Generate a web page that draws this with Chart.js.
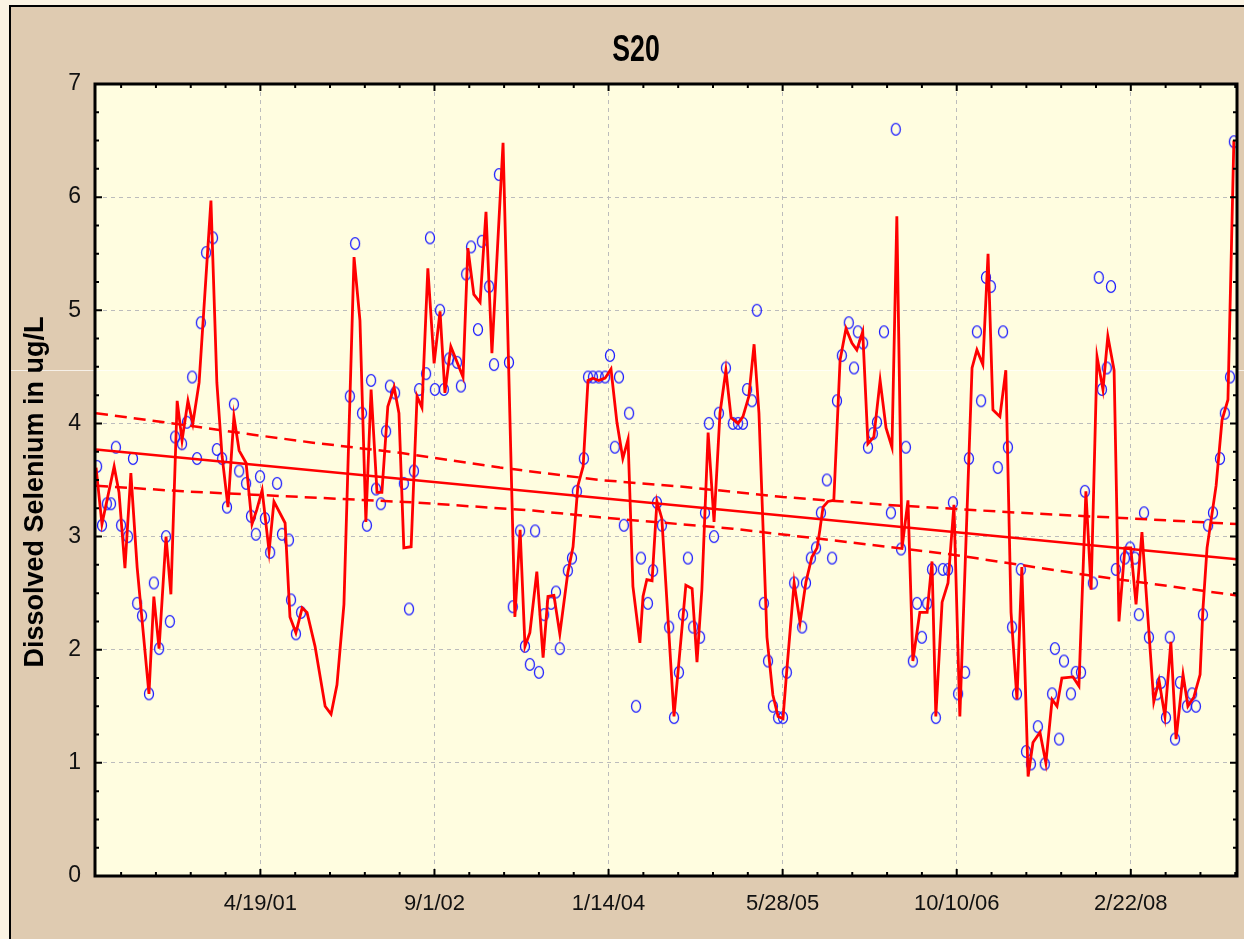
<!DOCTYPE html>
<html>
<head>
<meta charset="utf-8">
<title>S20</title>
<script src="https://cdn.jsdelivr.net/npm/chart.js@4.4.1/dist/chart.umd.min.js"></script>
<style>
  html, body { margin: 0; padding: 0; background: #fbf3e3; }
  #wrap { width: 1244px; height: 939px; }
</style>
</head>
<body>
<div id="wrap"><canvas id="chart" width="1244" height="939"></canvas></div>
<script>
// x values are days counted from the left edge of the axis (about 1 Jan 2000)
const chartTitle = 'S20';
const yTitle = 'Dissolved Selenium in ug/L';

const dateTicks = [475, 975, 1475, 1975, 2475, 2975];
const dateLabels = ['4/19/01', '9/1/02', '1/14/04', '5/28/05', '10/10/06', '2/22/08'];
const dayTicks = [75, 175, 275, 375, 475, 575, 675, 775, 875, 975, 1075, 1175, 1275, 1375, 1475, 1575, 1675,
  1775, 1875, 1975, 2075, 2175, 2275, 2375, 2475, 2575, 2675, 2775, 2875, 2975, 3075, 3175, 3275];
const valueTicks = [0, 0.25, 0.5, 0.75, 1, 1.25, 1.5, 1.75, 2, 2.25, 2.5, 2.75, 3, 3.25, 3.5, 3.75, 4,
  4.25, 4.5, 4.75, 5, 5.25, 5.5, 5.75, 6, 6.25, 6.5, 6.75, 7];

// measured samples (blue circles)
const sampleDays = [6, 20, 34, 46, 60, 75, 95, 109, 121, 135,
  155, 169, 184, 204, 215, 230, 250, 264, 279, 293,
  304, 319, 339, 350, 365, 379, 399, 414, 434, 448,
  462, 474, 488, 503, 523, 537, 557, 563, 577, 592,
  732, 747, 767, 781, 793, 807, 821, 836, 847, 862,
  887, 902, 916, 931, 951, 962, 976, 991, 1002, 1017,
  1040, 1051, 1066, 1080, 1100, 1111, 1132, 1146, 1160, 1189,
  1200, 1221, 1235, 1249, 1264, 1275, 1290, 1310, 1324, 1335,
  1358, 1370, 1384, 1404, 1416, 1430, 1447, 1465, 1479, 1493,
  1505, 1519, 1534, 1554, 1568, 1588, 1603, 1614, 1628, 1649,
  1663, 1677, 1689, 1703, 1718, 1738, 1752, 1763, 1778, 1792,
  1812, 1832, 1847, 1861, 1873, 1887, 1901, 1921, 1933, 1947,
  1962, 1976, 1987, 2008, 2031, 2042, 2056, 2071, 2085, 2102,
  2117, 2131, 2145, 2165, 2180, 2191, 2206, 2220, 2234, 2246,
  2266, 2286, 2300, 2315, 2329, 2349, 2361, 2375, 2390, 2404,
  2415, 2435, 2450, 2464, 2479, 2499, 2510, 2533, 2545, 2559,
  2573, 2593, 2608, 2622, 2634, 2648, 2659, 2674, 2688, 2708,
  2728, 2749, 2757, 2769, 2783, 2803, 2817, 2832, 2843, 2866,
  2883, 2892, 2906, 2918, 2932, 2958, 2973, 2987, 2998, 3013,
  3027, 3050, 3062, 3076, 3087, 3102, 3116, 3136, 3151, 3162,
  3182, 3197, 3211, 3231, 3245, 3260, 3271];
const sampleValues = [3.62, 3.10, 3.29, 3.29, 3.79, 3.10, 3.00, 3.69, 2.41, 2.30,
  1.61, 2.59, 2.01, 3.00, 2.25, 3.88, 3.82, 4.01, 4.41, 3.69,
  4.89, 5.51, 5.64, 3.77, 3.69, 3.26, 4.17, 3.58, 3.47, 3.18,
  3.02, 3.53, 3.16, 2.86, 3.47, 3.02, 2.97, 2.44, 2.14, 2.33,
  4.24, 5.59, 4.09, 3.10, 4.38, 3.42, 3.29, 3.93, 4.33, 4.27,
  3.47, 2.36, 3.58, 4.30, 4.44, 5.64, 4.30, 5.00, 4.30, 4.57,
  4.54, 4.33, 5.32, 5.56, 4.83, 5.61, 5.21, 4.52, 6.20, 4.54,
  2.38, 3.05, 2.03, 1.87, 3.05, 1.80, 2.31, 2.41, 2.51, 2.01,
  2.70, 2.81, 3.40, 3.69, 4.41, 4.41, 4.41, 4.41, 4.60, 3.79,
  4.41, 3.10, 4.09, 1.50, 2.81, 2.41, 2.70, 3.30, 3.10, 2.20,
  1.40, 1.80, 2.31, 2.81, 2.20, 2.11, 3.21, 4.00, 3.00, 4.09,
  4.49, 4.00, 4.00, 4.00, 4.30, 4.20, 5.00, 2.41, 1.90, 1.50,
  1.40, 1.40, 1.80, 2.59, 2.20, 2.59, 2.81, 2.90, 3.21, 3.50,
  2.81, 4.20, 4.60, 4.89, 4.49, 4.81, 4.71, 3.79, 3.91, 4.01,
  4.81, 3.21, 6.60, 2.89, 3.79, 1.90, 2.41, 2.11, 2.41, 2.71,
  1.40, 2.71, 2.71, 3.30, 1.61, 1.80, 3.69, 4.81, 4.20, 5.29,
  5.21, 3.61, 4.81, 3.79, 2.20, 1.61, 2.71, 1.10, 0.99, 1.32,
  0.99, 1.61, 2.01, 1.21, 1.90, 1.61, 1.80, 1.80, 3.40, 2.59,
  5.29, 4.30, 4.49, 5.21, 2.71, 2.81, 2.90, 2.81, 2.31, 3.21,
  2.11, 1.61, 1.71, 1.40, 2.11, 1.21, 1.71, 1.50, 1.61, 1.50,
  2.31, 3.10, 3.21, 3.69, 4.09, 4.41, 6.49];

// smoothed fit (red line)
const smoothDays = [3, 20, 55, 69, 86, 103, 121, 155, 169, 184,
  204, 218, 236, 250, 267, 281, 299, 333, 350, 365,
  382, 399, 414, 434, 451, 465, 480, 500, 514, 546,
  560, 577, 595, 609, 632, 661, 678, 695, 715, 744,
  761, 778, 793, 810, 824, 841, 859, 873, 887, 908,
  925, 939, 956, 974, 991, 1005, 1022, 1057, 1071, 1088,
  1106, 1123, 1140, 1172, 1206, 1221, 1235, 1249, 1269, 1287,
  1301, 1318, 1335, 1358, 1373, 1387, 1402, 1416, 1430, 1447,
  1465, 1482, 1499, 1516, 1531, 1545, 1565, 1574, 1585, 1600,
  1614, 1628, 1663, 1697, 1715, 1729, 1743, 1761, 1778, 1795,
  1812, 1827, 1847, 1861, 1878, 1893, 1907, 1930, 1947, 1962,
  1976, 1987, 2008, 2025, 2042, 2059, 2074, 2082, 2091, 2105,
  2122, 2140, 2157, 2174, 2188, 2205, 2220, 2237, 2255, 2272,
  2289, 2303, 2318, 2335, 2349, 2369, 2390, 2404, 2415, 2433,
  2450, 2467, 2484, 2519, 2533, 2550, 2565, 2579, 2599, 2616,
  2631, 2648, 2662, 2680, 2694, 2714, 2731, 2749, 2763, 2777,
  2809, 2826, 2846, 2861, 2878, 2895, 2909, 2927, 2941, 2958,
  2975, 2990, 3007, 3041, 3056, 3073, 3090, 3105, 3125, 3139,
  3156, 3174, 3182, 3194, 3220, 3237, 3254, 3271];
const smoothValues = [3.61, 3.11, 3.62, 3.39, 2.72, 3.56, 2.73, 1.61, 2.47, 2.01,
  3.00, 2.49, 4.20, 3.85, 4.20, 4.00, 4.36, 5.97, 4.36, 3.71,
  3.26, 4.06, 3.76, 3.65, 3.11, 3.24, 3.41, 2.87, 3.31, 3.12,
  2.29, 2.15, 2.37, 2.33, 2.03, 1.50, 1.43, 1.69, 2.40, 5.47,
  4.91, 3.13, 4.30, 3.39, 3.39, 4.15, 4.32, 4.09, 2.90, 2.91,
  4.24, 4.14, 5.37, 4.53, 4.99, 4.27, 4.68, 4.41, 5.55, 5.14,
  5.07, 5.87, 4.62, 6.48, 2.29, 3.06, 2.03, 2.15, 2.69, 1.93,
  2.47, 2.48, 2.14, 2.68, 2.91, 3.45, 3.62, 4.38, 4.40, 4.38,
  4.40, 4.48, 4.01, 3.69, 3.86, 2.56, 2.06, 2.47, 2.62, 2.61,
  3.31, 3.16, 1.41, 2.57, 2.54, 1.89, 2.53, 3.92, 3.13, 4.09,
  4.47, 4.05, 4.00, 4.06, 4.24, 4.70, 4.09, 2.11, 1.60, 1.41,
  1.39, 1.82, 2.59, 2.24, 2.60, 2.82, 2.90, 3.06, 3.26, 3.31,
  3.32, 4.56, 4.84, 4.71, 4.65, 4.81, 3.82, 3.88, 4.38, 3.96,
  3.79, 5.83, 2.90, 3.32, 1.90, 2.33, 2.33, 2.78, 1.41, 2.42,
  2.59, 3.28, 1.41, 4.49, 4.65, 4.52, 5.50, 4.12, 4.06, 4.47,
  2.33, 1.56, 2.73, 0.88, 1.18, 1.27, 1.00, 1.56, 1.50, 1.75,
  1.76, 1.68, 3.40, 2.53, 4.59, 4.30, 4.77, 4.47, 2.25, 2.90,
  2.90, 2.40, 3.04, 1.54, 1.73, 1.41, 2.07, 1.21, 1.78, 1.50,
  1.58, 1.78, 2.35, 2.90, 3.45, 4.03, 4.21, 6.50];

// linear trend and its 95% band
const trendDays = [3, 3280];
const trendValues = [3.77, 2.80];
const upperDays = [3, 224, 454, 626, 876, 1163, 1450, 1689, 1976, 2275, 2657, 3039, 3280];
const upperValues = [4.09, 4.00, 3.90, 3.83, 3.74, 3.61, 3.50, 3.44, 3.35, 3.28, 3.21, 3.15, 3.11];
const lowerDays = [3, 253, 589, 925, 1258, 1450, 1832, 2082, 2464, 2849, 3280];
const lowerValues = [3.45, 3.40, 3.35, 3.30, 3.23, 3.17, 3.07, 2.98, 2.84, 2.66, 2.48];

const pts = (xs, ys) => xs.map((x, i) => ({x: x, y: ys[i]}));
const FONT = "'Liberation Sans', Arial, sans-serif";

// open ellipse marker like the original
const marker = document.createElement('canvas');
marker.width = 12; marker.height = 15;
const mc = marker.getContext('2d');
mc.strokeStyle = '#1e1eff';
mc.lineWidth = 1.3;
mc.beginPath();
mc.ellipse(6, 7.5, 4.5, 5.9, 0, 0, Math.PI * 2);
mc.stroke();

const framePlugin = {
  id: 'frame',
  beforeDraw(chart) {
    const ctx = chart.ctx, a = chart.chartArea;
    ctx.save();
    ctx.fillStyle = '#fbf3e3';
    ctx.fillRect(0, 0, chart.width, chart.height);
    ctx.fillStyle = '#dfcbb1';
    ctx.fillRect(10, 6, chart.width, chart.height);
    ctx.strokeStyle = '#000';
    ctx.lineWidth = 2;
    ctx.beginPath();
    ctx.moveTo(10, chart.height); ctx.lineTo(10, 6); ctx.lineTo(chart.width, 6);
    ctx.stroke();
    ctx.fillStyle = '#fffde0';
    ctx.fillRect(a.left, a.top, a.right - a.left, a.bottom - a.top);
    ctx.strokeStyle = 'rgba(255,255,255,0.7)';
    ctx.lineWidth = 1;
    ctx.beginPath(); ctx.moveTo(11, 370.5); ctx.lineTo(chart.width, 370.5); ctx.stroke();
    ctx.restore();
  },
  afterDatasetsDraw(chart) {
    const ctx = chart.ctx, a = chart.chartArea;
    const xs = chart.scales.x, ys = chart.scales.y;
    const seg = (x1, y1, x2, y2) => { ctx.moveTo(x1, y1); ctx.lineTo(x2, y2); };
    ctx.save();
    ctx.strokeStyle = '#000';
    ctx.lineWidth = 2;
    ctx.beginPath();
    xs.ticks.forEach(t => {
      const px = xs.getPixelForValue(t.value);
      const len = dateTicks.includes(t.value) ? 7 : 4;
      seg(px, a.bottom, px, a.bottom - len);
      seg(px, a.top, px, a.top + len);
    });
    ys.ticks.forEach(t => {
      const py = ys.getPixelForValue(t.value);
      const len = Number.isInteger(t.value) ? 7 : 4;
      seg(a.left, py, a.left + len, py);
      seg(a.right, py, a.right - len, py);
    });
    ctx.stroke();
    ctx.lineWidth = 3;
    ctx.strokeRect(a.left, a.top, a.right - a.left, a.bottom - a.top);
    ctx.restore();
  },
  afterDraw(chart) {
    const ctx = chart.ctx;
    ctx.save();
    ctx.fillStyle = '#000';
    ctx.textAlign = 'center';
    ctx.textBaseline = 'alphabetic';
    ctx.translate(636, 61);
    ctx.scale(0.74, 1);
    ctx.font = 'bold 36px ' + FONT;
    ctx.fillText(chartTitle, 0, 0);
    ctx.restore();

    ctx.save();
    ctx.fillStyle = '#000';
    ctx.textAlign = 'center';
    ctx.textBaseline = 'alphabetic';
    ctx.translate(43, 492);
    ctx.rotate(-Math.PI / 2);
    ctx.font = 'bold 27px ' + FONT;
    ctx.fillText(yTitle, 0, 0);
    ctx.restore();
  }
};

const gridGray = '#bcbcbc';

new Chart(document.getElementById('chart'), {
  type: 'scatter',
  data: {
    datasets: [
      { label: 'Samples', data: pts(sampleDays, sampleValues), pointStyle: marker, pointRadius: 6, order: 5 },
      { label: 'Smoothed', data: pts(smoothDays, smoothValues), showLine: true, borderColor: '#ff0000',
        borderWidth: 2.8, pointRadius: 0, tension: 0, order: 1 },
      { label: 'Trend', data: pts(trendDays, trendValues), showLine: true, borderColor: '#ff0000',
        borderWidth: 2.5, pointRadius: 0, order: 2 },
      { label: 'Upper 95%', data: pts(upperDays, upperValues), showLine: true, borderColor: '#ff0000',
        borderWidth: 2.5, borderDash: [12, 7], pointRadius: 0, order: 2 },
      { label: 'Lower 95%', data: pts(lowerDays, lowerValues), showLine: true, borderColor: '#ff0000',
        borderWidth: 2.5, borderDash: [12, 7], pointRadius: 0, order: 2 }
    ]
  },
  options: {
    responsive: false,
    animation: false,
    devicePixelRatio: 1,
    layout: { autoPadding: false, padding: { top: 84, right: 0, left: 0, bottom: 0 } },
    plugins: { legend: { display: false }, tooltip: { enabled: false }, title: { display: false } },
    scales: {
      x: {
        type: 'linear', min: 0, max: 3280,
        afterBuildTicks: s => { s.ticks = dayTicks.map(v => ({value: v})); },
        afterFit: s => { s.height = 63; s.paddingRight = 7; },
        ticks: {
          autoSkip: false, maxRotation: 0, padding: 15, color: '#111',
          font: { family: FONT, size: 22 },
          callback: v => { const i = dateTicks.indexOf(v); return i >= 0 ? dateLabels[i] : ''; }
        },
        grid: { drawTicks: false, lineWidth: 1,
          color: c => (c.tick && dateTicks.includes(c.tick.value)) ? gridGray : 'rgba(0,0,0,0)' },
        border: { display: false, dash: [4, 4] }
      },
      y: {
        min: 0, max: 7,
        afterBuildTicks: s => { s.ticks = valueTicks.map(v => ({value: v})); },
        afterFit: s => { s.width = 95; },
        ticks: {
          autoSkip: false, padding: 14, color: '#111',
          font: { family: FONT, size: 23 },
          callback: v => Number.isInteger(v) ? String(v) : ''
        },
        grid: { drawTicks: false, lineWidth: 1,
          color: c => (c.tick && Number.isInteger(c.tick.value) && c.tick.value > 0 && c.tick.value < 7) ? gridGray : 'rgba(0,0,0,0)' },
        border: { display: false, dash: [4, 4] }
      }
    }
  },
  plugins: [framePlugin]
});
</script>
</body>
</html>
